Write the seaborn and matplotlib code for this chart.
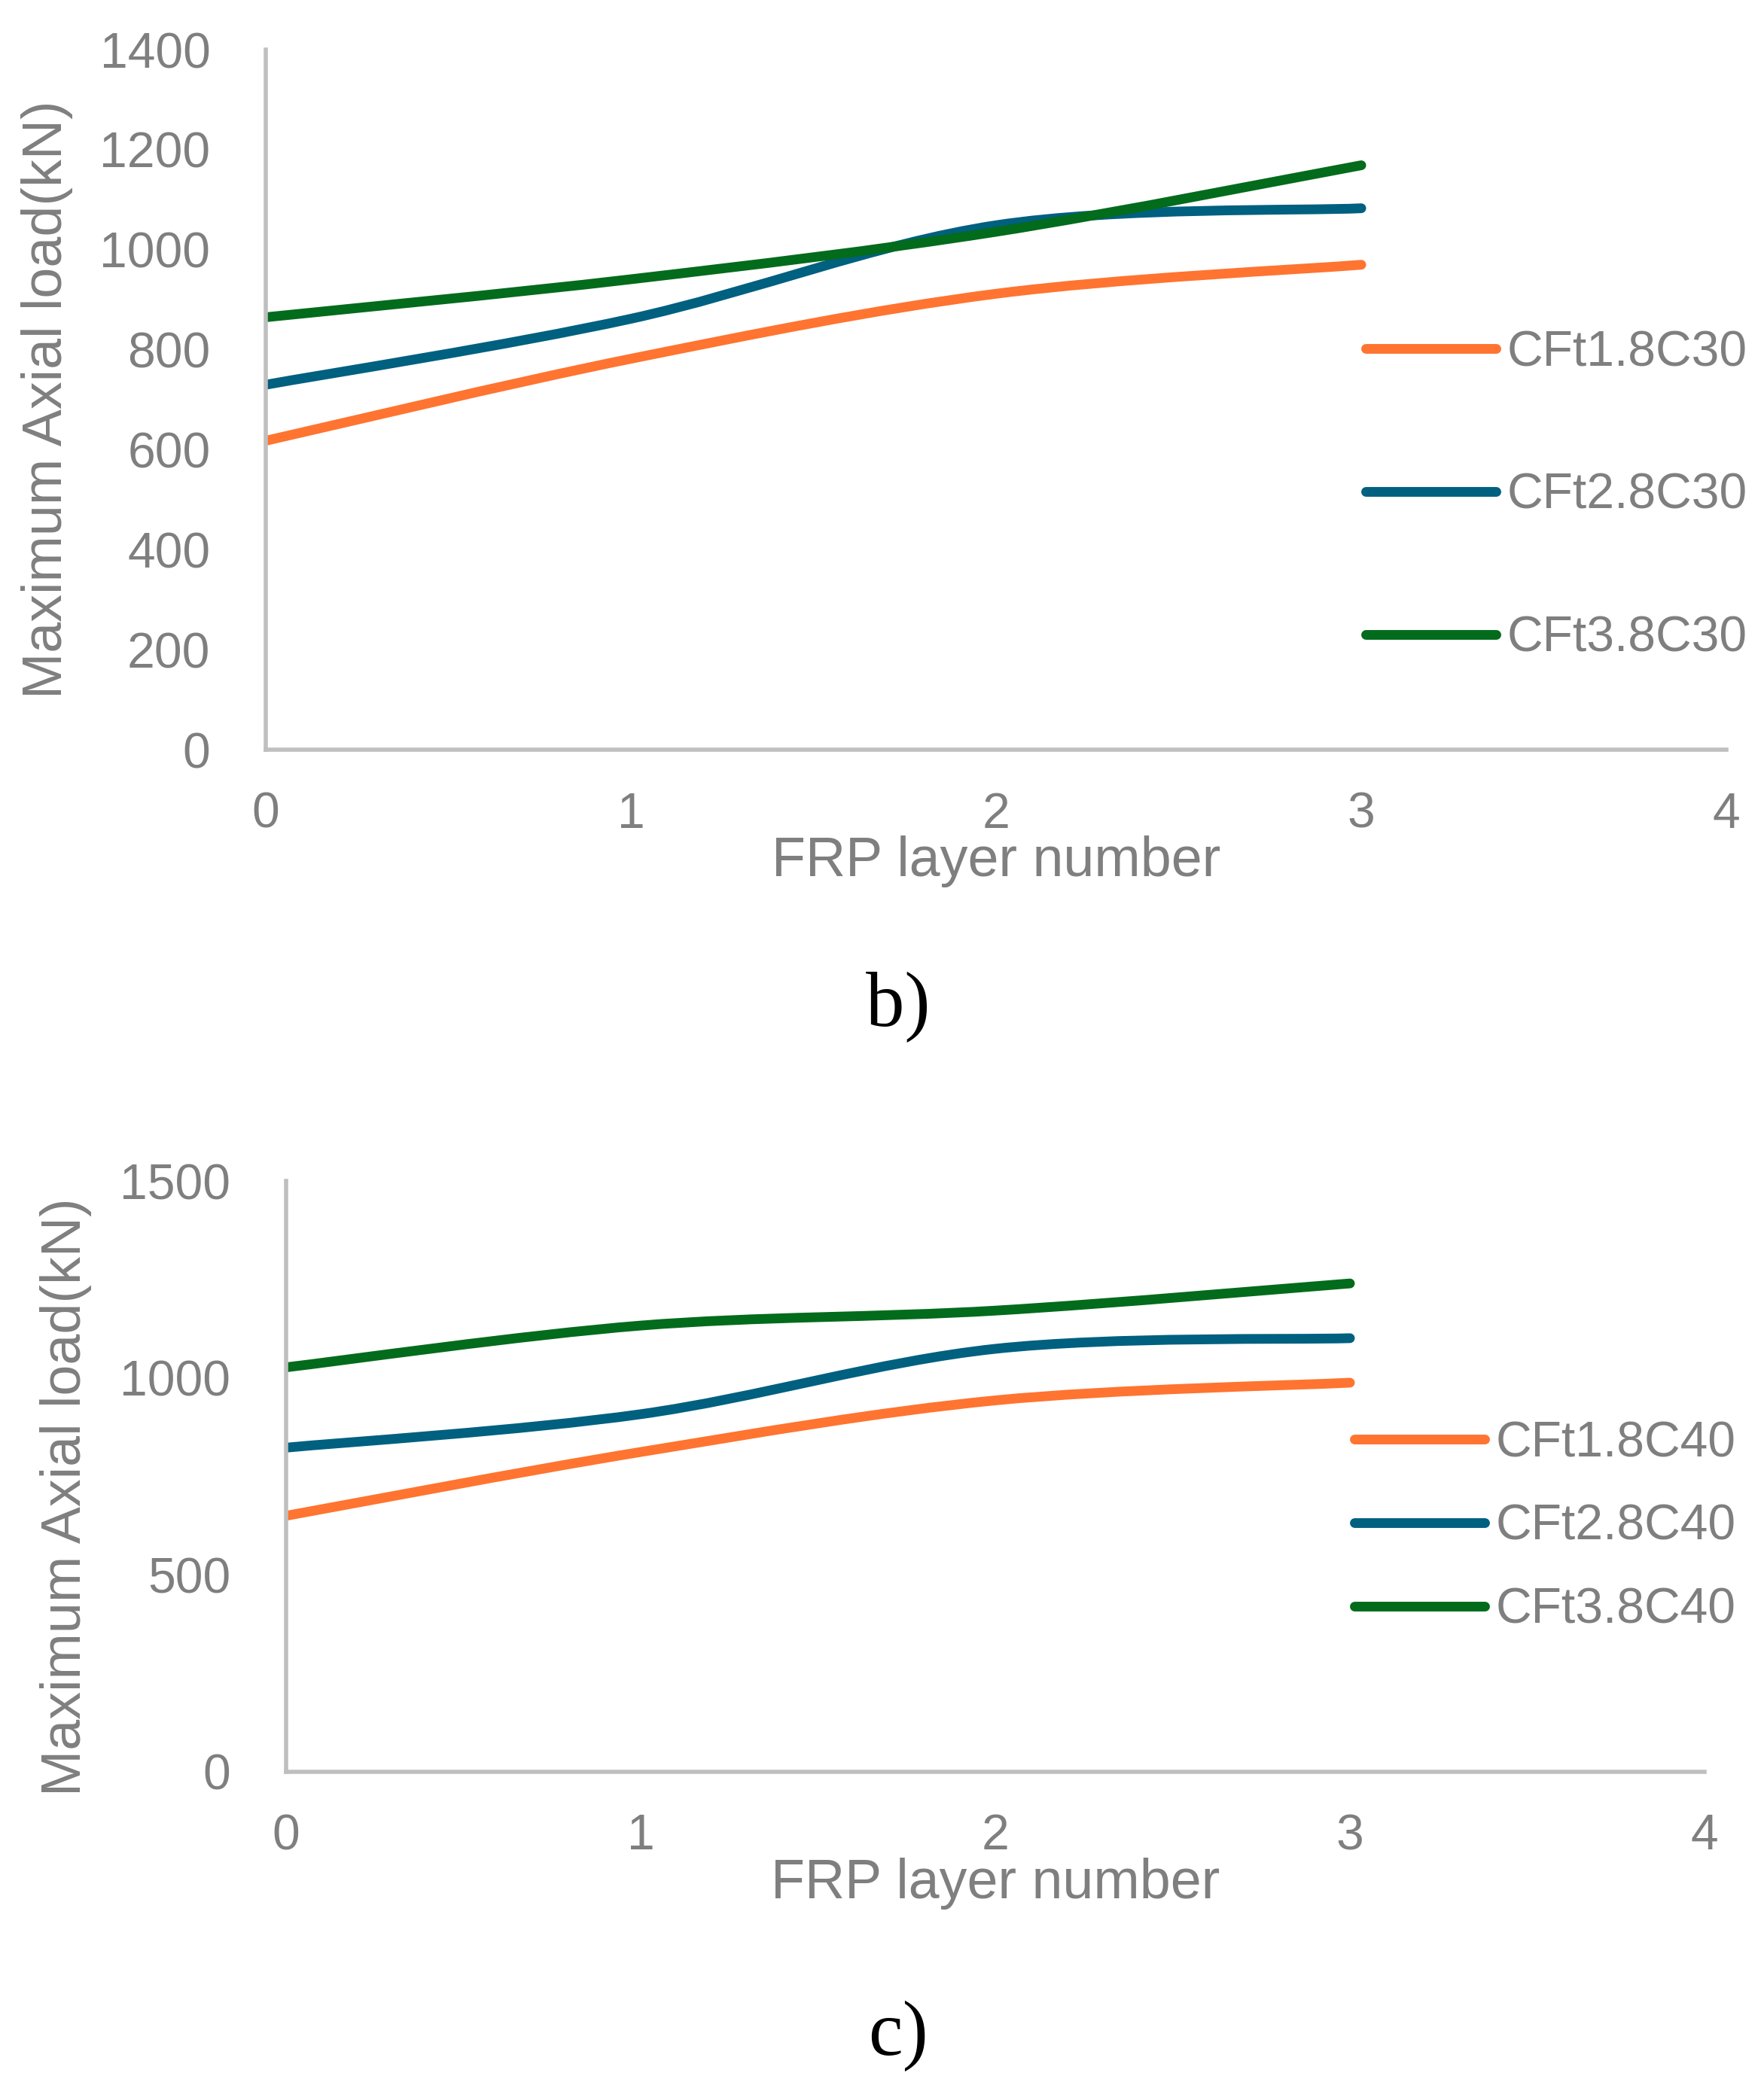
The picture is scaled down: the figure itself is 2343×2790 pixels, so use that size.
import matplotlib.pyplot as plt
import seaborn as sns
import numpy as np
from matplotlib.path import Path
from matplotlib.patches import PathPatch
from matplotlib.lines import Line2D

# data
layers = [0, 1, 2, 3]

labels_b = ['CFt1.8C30', 'CFt2.8C30', 'CFt3.8C30']
c30_t18 = [618, 782, 912, 970]
c30_t28 = [730, 862, 1049, 1083]
c30_t38 = [865, 941, 1036, 1169]

labels_c = ['CFt1.8C40', 'CFt2.8C40', 'CFt3.8C40']
c40_t18 = [650, 812, 943, 988]
c40_t28 = [823, 908, 1074, 1101]
c40_t38 = [1027, 1133, 1171, 1240]

colors = ['#FF7430', '#00607F', '#036B1C']
gray = '#7F7F7F'

sns.set_theme(style="white")
plt.rcParams['font.family'] = ['Liberation Sans', 'DejaVu Sans']


def smooth_path(x, y):
    # excel-like smoothed line: cubic bezier segments, catmull-rom tangents
    p = np.column_stack([x, y]).astype(float)
    ext = np.vstack([p[0], p, p[-1]])
    verts = [p[0]]
    codes = [Path.MOVETO]
    for i in range(len(p) - 1):
        p0, p1, p2, p3 = ext[i], ext[i + 1], ext[i + 2], ext[i + 3]
        verts += [p1 + (p2 - p0) / 6, p2 - (p3 - p1) / 6, p2]
        codes += [Path.CURVE4] * 3
    return Path(verts, codes)


def draw_panel(ax, series, labels, ymax, ystep, leg_anchor, spacing):
    for vals, lab, col in zip(series, labels, colors):
        ax.add_patch(PathPatch(smooth_path(layers, vals), fill=False, edgecolor=col,
                               lw=9.3, capstyle='round', joinstyle='round'))
    ax.set_xlim(0, 4)
    ax.set_ylim(0, ymax)
    ax.set_xticks(range(5))
    ax.set_yticks(np.arange(0, ymax + 1, ystep))
    sns.despine(ax=ax)
    for s in ['left', 'bottom']:
        ax.spines[s].set_color('#BFBFBF')
        ax.spines[s].set_linewidth(4)
    ax.tick_params(axis='both', length=0, labelsize=47.5, labelcolor=gray)
    ax.tick_params(axis='y', pad=53)
    ax.tick_params(axis='x', pad=40)
    ax.set_xlabel('FRP layer number', fontsize=53, color=gray)
    ax.set_ylabel('Maximum Axial load(kN)', fontsize=53, color=gray)
    handles = [Line2D([], [], color=c, lw=9.3, solid_capstyle='round') for c in colors]
    ax.legend(handles, labels, loc='center left', bbox_to_anchor=leg_anchor,
              bbox_transform=fig.transFigure, frameon=False, fontsize=47.5,
              labelcolor=gray, handlelength=2.62, handletextpad=0.22,
              labelspacing=spacing, borderpad=0, borderaxespad=0)
    return ax


fig = plt.figure(figsize=(23.43, 27.90), dpi=100)
ax1 = fig.add_axes([0.1507, 0.643, 0.9787 - 0.1507, 0.9763 - 0.643])
ax2 = fig.add_axes([0.1622, 0.1563, 0.9663 - 0.1622, 0.4376 - 0.1563])

draw_panel(ax1, [c30_t18, c30_t28, c30_t38], labels_b, 1400, 200, (0.7742, 0.7638), 1.94)
draw_panel(ax2, [c40_t18, c40_t28, c40_t38], labels_c, 1500, 500, (0.7678, 0.2728), 0.74)

ax1.xaxis.set_label_coords(0.5, -0.1597)
ax1.xaxis.label.set_va('center')
ax1.yaxis.set_label_coords(-0.150, 0.5)
ax1.yaxis.label.set_va('center')
ax2.xaxis.set_label_coords(0.5, -0.189)
ax2.xaxis.label.set_va('center')
ax2.yaxis.set_label_coords(-0.1555, 0.465)
ax2.yaxis.label.set_va('center')

fig.text(0.509, 0.5204, 'b)', fontsize=74, family='Liberation Serif', color='black',
         ha='center', va='center')
fig.text(0.509, 0.0305, 'c)', fontsize=74, family='Liberation Serif', color='black',
         ha='center', va='center')

fig.savefig('out.png', dpi=100)
